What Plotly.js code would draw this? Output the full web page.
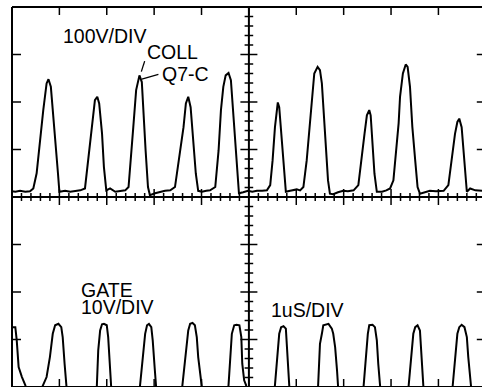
<!DOCTYPE html>
<html>
<head>
<meta charset="utf-8">
<script src="https://cdn.plot.ly/plotly-3.0.1.min.js"></script>
<style>html,body{margin:0;padding:0;background:#fff;}#chart{width:482px;height:387px;}</style>
</head>
<body>
<div id="chart"></div>
<script>
// Time axis in microseconds (1 uS/DIV); vertical values in screen divisions (8 divisions, centre = 0)
const collX = [0.00,0.07,0.17,0.28,0.38,0.45,0.52,0.59,0.66,0.73,0.77,0.82,0.87,0.92,0.97,1.00,
  1.12,1.23,1.33,1.44,1.54,1.61,1.68,1.75,1.80,1.84,1.90,1.94,1.99,
  2.07,2.18,2.28,2.39,2.46,2.51,2.56,2.62,2.69,2.74,2.77,2.82,2.87,2.91,
  3.02,3.13,3.23,3.34,3.44,3.55,3.62,3.67,3.72,3.77,3.83,3.88,3.93,
  4.01,4.10,4.18,4.29,4.36,4.41,4.46,4.51,4.57,4.62,4.66,4.71,4.76,4.79,
  4.88,4.98,5.07,5.17,5.28,5.38,5.45,5.50,5.55,5.61,5.64,5.68,5.73,5.78,
  5.87,5.94,6.01,6.08,6.15,6.22,6.28,6.33,6.38,6.45,6.50,6.54,6.59,6.63,6.67,6.71,
  6.78,6.88,6.99,7.09,7.21,7.31,7.38,7.44,7.49,7.54,7.57,7.62,7.65,7.70,
  7.81,7.90,7.98,8.05,8.11,8.16,8.19,8.25,8.31,8.35,8.40,8.45,8.51,8.56,8.61,
  8.72,8.82,8.95,9.11,9.21,9.28,9.35,9.40,9.44,9.49,9.53,9.56,9.60,9.67,9.78,9.92];
const collY = [0.12,0.11,0.13,0.11,0.12,0.18,0.50,1.19,1.83,2.39,2.48,2.32,1.76,1.13,0.50,0.11,
  0.13,0.11,0.13,0.14,0.18,0.77,1.47,2.04,2.11,1.97,1.34,0.63,0.14,
  0.18,0.11,0.13,0.14,0.21,0.77,1.47,2.25,2.56,2.42,1.83,0.98,0.21,0.04,
  0.08,0.11,0.13,0.14,0.21,0.98,1.47,1.97,2.11,1.89,1.19,0.49,0.13,
  0.11,0.13,0.14,0.21,0.98,1.83,2.32,2.56,2.61,2.46,1.89,1.05,0.35,0.08,
  0.10,0.13,0.11,0.13,0.13,0.14,0.25,0.77,1.47,1.99,1.89,1.33,0.63,0.11,
  0.13,0.14,0.16,0.14,0.21,0.77,1.47,2.11,2.60,2.74,2.67,2.39,1.68,0.98,0.35,0.07,
  0.06,0.10,0.13,0.12,0.14,0.25,0.77,1.33,1.72,1.83,1.72,1.05,0.49,0.11,
  0.11,0.14,0.18,0.35,0.98,1.55,2.11,2.60,2.79,2.74,2.32,1.47,0.77,0.21,0.07,
  0.11,0.13,0.12,0.13,0.25,0.77,1.33,1.58,1.65,1.47,0.98,0.42,0.11,0.18,0.14,0.13];

const gateX = [0.00,0.07,0.10,0.14,0.21,0.28,0.32,0.46,
  0.59,0.66,0.73,0.80,0.86,0.91,0.98,1.04,1.07,1.11,1.14,1.16,1.44,
  1.76,1.79,1.82,1.86,1.90,1.94,2.00,2.03,2.06,2.09,2.10,2.39,
  2.68,2.70,2.76,2.81,2.85,2.89,2.94,2.97,3.01,3.04,3.05,3.34,
  3.58,3.60,3.67,3.72,3.76,3.81,3.86,3.90,3.93,3.98,4.01,4.02,4.29,
  4.55,4.57,4.60,4.64,4.69,4.74,4.80,4.84,4.86,4.90,4.94,4.96,5.24,
  5.53,5.55,5.60,5.64,5.68,5.73,5.78,5.80,5.83,5.85,5.86,6.14,
  6.44,6.46,6.50,6.54,6.57,6.68,6.75,6.78,6.82,6.86,6.88,6.89,7.14,
  7.40,7.42,7.47,7.51,7.54,7.61,7.66,7.70,7.73,7.77,7.78,8.09,
  8.35,8.37,8.42,8.47,8.51,8.56,8.61,8.63,8.66,8.68,8.69,8.99,
  9.29,9.30,9.35,9.40,9.44,9.49,9.55,9.60,9.63,9.67,9.69,9.70,9.92];
const gateY = [-2.74,-2.74,-3.02,-3.58,-3.79,-3.96,-4.11,-4.30,
  -4.11,-3.96,-3.79,-3.37,-2.88,-2.70,-2.67,-2.74,-2.95,-3.51,-3.99,-4.11,-4.30,
  -4.11,-3.99,-3.23,-2.81,-2.68,-2.67,-2.70,-2.95,-3.51,-3.99,-4.11,-4.30,
  -4.11,-3.99,-3.37,-2.88,-2.70,-2.67,-2.74,-3.02,-3.58,-3.99,-4.11,-4.30,
  -4.11,-3.93,-3.23,-2.81,-2.67,-2.65,-2.70,-2.95,-3.37,-3.79,-3.99,-4.11,-4.30,
  -4.11,-3.96,-3.37,-2.88,-2.70,-2.69,-2.70,-2.95,-3.51,-3.86,-3.96,-4.11,-4.30,
  -4.11,-3.96,-3.30,-2.88,-2.74,-2.72,-2.77,-3.09,-3.65,-3.99,-4.11,-4.30,
  -4.11,-3.99,-3.09,-2.88,-2.70,-2.67,-2.77,-2.88,-3.16,-3.65,-3.99,-4.11,-4.30,
  -4.11,-3.99,-3.37,-2.88,-2.70,-2.69,-2.74,-3.02,-3.51,-3.99,-4.11,-4.30,
  -4.11,-3.99,-3.37,-2.88,-2.74,-2.70,-2.81,-3.09,-3.58,-3.99,-4.11,-4.30,
  -4.11,-3.99,-3.37,-2.88,-2.74,-2.69,-2.74,-2.95,-3.37,-3.79,-3.99,-4.11,-4.30];

const xMajor = [1,2,3,4,5,6,7,8,9];
const yMajor = [-3,-2,-1,1,2,3];
const labels = [
  {text:'100V/DIV', x:1.03, y:3.38},
  {text:'COLL', x:2.81, y:3.05},
  {text:'Q7-C', x:3.12, y:2.60},
  {text:'GATE', x:1.42, y:-1.95},
  {text:'10V/DIV', x:1.42, y:-2.32},
  {text:'1uS/DIV', x:5.43, y:-2.37}
];

const K = '#000';
const shapes = [];
const tk = {color:K, width:1.5};
// frame lines
shapes.push({type:'line', xref:'paper', yref:'paper', x0:0, x1:0, y0:0, y1:1, line:{color:K,width:2}});
shapes.push({type:'line', xref:'paper', yref:'paper', x0:0, x1:1, y0:1, y1:1, line:{color:K,width:2}});
shapes.push({type:'line', xref:'paper', yref:'paper', x0:0, x1:1, y0:0, y1:0, line:{color:K,width:2}});
// centre graticule lines
shapes.push({type:'line', xref:'x', yref:'paper', x0:5, x1:5, y0:0, y1:1, line:{color:K,width:2}});
shapes.push({type:'line', xref:'paper', yref:'y', x0:0, x1:1, y0:0, y1:0, line:{color:K,width:2}});
// edge ticks
xMajor.forEach(function(t){
  shapes.push({type:'line', xref:'x', yref:'y', x0:t, x1:t, ysizemode:'pixel', yanchor:4, y0:0, y1:-8, line:tk});
  shapes.push({type:'line', xref:'x', yref:'y', x0:t, x1:t, ysizemode:'pixel', yanchor:-4, y0:0, y1:8, line:tk});
});
yMajor.forEach(function(v){
  shapes.push({type:'line', xref:'x', yref:'y', y0:v, y1:v, xsizemode:'pixel', xanchor:0, x0:0, x1:9, line:tk});
  shapes.push({type:'line', xref:'x', yref:'y', y0:v, y1:v, xsizemode:'pixel', xanchor:10, x0:-9, x1:0, line:tk});
});
// centre-line sub-division ticks (5 per division)
for (let i = 1; i < 50; i++) {
  const t = Math.round(i*2)/10;
  if (i === 25) continue;
  const L = (i % 5 === 0) ? 8 : 4;
  shapes.push({type:'line', xref:'x', yref:'y', x0:t, x1:t, ysizemode:'pixel', yanchor:0, y0:-L, y1:L, line:tk});
}
for (let i = -19; i < 20; i++) {
  if (i === 0) continue;
  const v = i/5;
  const L = (i % 5 === 0) ? 8.5 : 4.3;
  shapes.push({type:'line', xref:'x', yref:'y', y0:v, y1:v, xsizemode:'pixel', xanchor:5, x0:-L, x1:L, line:tk});
}
// label pointer lines
shapes.push({type:'line', xref:'x', yref:'y', x0:2.80, y0:2.86, x1:2.73, y1:2.64, line:{color:K,width:1.3}});
shapes.push({type:'line', xref:'x', yref:'y', x0:2.74, y0:2.48, x1:3.09, y1:2.58, line:{color:K,width:1.3}});

const font = {family:'"Liberation Sans", Arial, Helvetica, sans-serif', size:19.5, color:K};
const annotations = labels.map(function(a){
  return {text:a.text, x:a.x, y:a.y, xref:'x', yref:'y', showarrow:false, xanchor:'left', yanchor:'middle', font:font};
});

const traces = [
  {type:'scatter', mode:'lines', x:collX, y:collY, line:{color:K, width:2}, hoverinfo:'skip', name:'COLL Q7-C'},
  {type:'scatter', mode:'lines', x:gateX, y:gateY, line:{color:K, width:2}, hoverinfo:'skip', name:'GATE'}
];

const layout = {
  width:482, height:387,
  margin:{l:12, r:0, t:7, b:0, pad:0},
  paper_bgcolor:'#fff', plot_bgcolor:'#fff',
  showlegend:false,
  xaxis:{range:[0, 470/47.38], showgrid:false, zeroline:false, showticklabels:false, ticks:'', showline:false, fixedrange:true},
  yaxis:{range:[-4, 4], showgrid:false, zeroline:false, showticklabels:false, ticks:'', showline:false, fixedrange:true},
  shapes:shapes,
  annotations:annotations
};

Plotly.newPlot('chart', traces, layout, {staticPlot:true, displayModeBar:false});
</script>
</body>
</html>
